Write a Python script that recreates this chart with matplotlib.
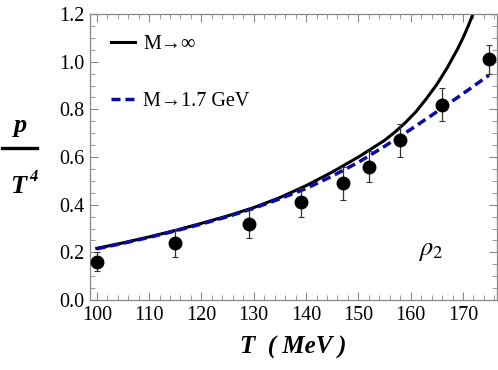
import matplotlib
matplotlib.use("Agg")
import matplotlib.pyplot as plt
from matplotlib.ticker import MultipleLocator, FormatStrFormatter

# lattice points (T in MeV, p/T^4 with errors)
T_data = [100, 115, 129, 139, 147, 152, 158, 166, 175]
p_data = [0.16, 0.24, 0.32, 0.41, 0.49, 0.56, 0.67, 0.82, 1.01]
p_err = [0.04, 0.06, 0.06, 0.06, 0.07, 0.065, 0.07, 0.07, 0.06]

# model curves
T_inf = [100, 105, 110, 115, 120, 125, 130, 135, 140, 145, 150, 155, 157, 159, 161, 163,
         165, 167, 169, 170, 171, 172]
p_inf = [0.217, 0.24, 0.265, 0.292, 0.322, 0.353, 0.388, 0.43, 0.48, 0.537, 0.6, 0.67, 0.705,
         0.745, 0.79, 0.845, 0.905, 0.975, 1.055, 1.1, 1.15, 1.205]

T_17 = [100, 105, 110, 115, 120, 125, 130, 135, 140, 145, 150, 155, 160, 165, 170, 175]
p_17 = [0.215, 0.238, 0.263, 0.29, 0.319, 0.35, 0.385, 0.425, 0.468, 0.52, 0.578, 0.645,
        0.716, 0.79, 0.866, 0.944]

plt.rcParams['font.family'] = ['Liberation Serif', 'DejaVu Serif']
plt.rcParams['mathtext.fontset'] = 'stix'

fig = plt.figure(figsize=(4.98, 3.70), dpi=100)
ax = fig.add_axes([0.1807, 0.189, 0.8173, 0.773])

ax.plot(T_inf, p_inf, color='black', lw=2.2, label='M\u2192\u221e', zorder=2)
ax.plot(T_17, p_17, color='#0a0aa5', lw=2.5, ls=(0, (2.6, 1.4)), label='M\u21921.7 GeV', zorder=3)
ax.errorbar(T_data, p_data, yerr=p_err, fmt='o', color='black', ms=9,
            ecolor='#333333', elinewidth=0.9, capsize=2.5, capthick=0.8, zorder=4)

ax.set_xlim(98.7, 176.5)
ax.set_ylim(0, 1.2)
ax.xaxis.set_major_locator(MultipleLocator(10))
ax.xaxis.set_minor_locator(MultipleLocator(2))
ax.yaxis.set_major_locator(MultipleLocator(0.2))
ax.yaxis.set_minor_locator(MultipleLocator(0.05))
ax.yaxis.set_major_formatter(FormatStrFormatter('%.1f'))
ax.tick_params(which='both', direction='in', top=True, right=True, color='#888888',
               labelsize=14.5, pad=4)
ax.tick_params(which='major', length=6, width=0.8)
ax.tick_params(which='minor', length=3.5, width=0.6)
for s in ax.spines.values():
    s.set_color('#888888')
    s.set_linewidth(0.9)

ax.legend(loc='upper left', frameon=False, fontsize=14.5,
          handlelength=1.2, handletextpad=0.4, labelspacing=1.85, borderaxespad=0.65)

ax.text(0.838, 0.168, r'$\rho_2$', transform=ax.transAxes, fontsize=19, ha='center', va='center')

# axis labels
fig.text(0.588, 0.06, 'T  ( MeV )', fontsize=18, fontweight='bold', fontstyle='italic',
         ha='center', va='center')
fig.text(0.042, 0.662, 'p', fontsize=19, fontweight='bold', fontstyle='italic',
         ha='center', va='center')
fig.add_artist(plt.Line2D([0.004, 0.075], [0.6, 0.6], color='black', lw=2.4))
fig.text(0.037, 0.497, 'T', fontsize=19, fontweight='bold', fontstyle='italic',
         ha='center', va='center')
fig.text(0.068, 0.522, '4', fontsize=12, fontweight='bold', fontstyle='italic',
         ha='center', va='center')

fig.savefig('out.png', dpi=100)
